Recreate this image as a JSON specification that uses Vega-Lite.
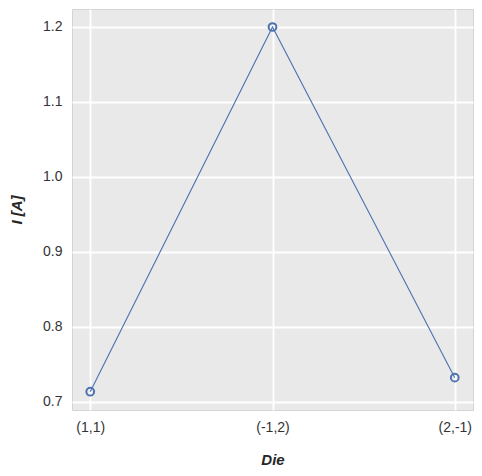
{
  "$schema": "https://vega.github.io/schema/vega-lite/v6.json",
  "width": 401,
  "height": 401,
  "autosize": {"type": "none"},
  "padding": {"left": 72, "top": 9, "right": 9, "bottom": 66},
  "background": "white",
  "config": {
    "view": {"fill": "#e9e9e9", "stroke": "#d4d4d4", "strokeWidth": 1},
    "font": "Liberation Sans",
    "axis": {
      "domain": false,
      "ticks": false,
      "grid": true,
      "gridColor": "white",
      "gridWidth": 1.8,
      "labelColor": "#333333",
      "labelFontSize": 14,
      "titleColor": "#262626",
      "titleFontSize": 15,
      "titleFontWeight": "bold",
      "titleFontStyle": "italic"
    }
  },
  "data": {
    "values": [
      {"die": "(1,1)", "current": 0.7137},
      {"die": "(-1,2)", "current": 1.2},
      {"die": "(2,-1)", "current": 0.7324}
    ]
  },
  "encoding": {
    "x": {
      "field": "die",
      "type": "ordinal",
      "sort": null,
      "scale": {"type": "point", "padding": 0.1},
      "axis": {"title": "Die", "labelAngle": 0, "labelPadding": 10, "titlePadding": 18}
    },
    "y": {
      "field": "current",
      "type": "quantitative",
      "scale": {"domain": [0.6893, 1.224], "nice": false, "zero": false},
      "axis": {"title": "I [A]", "values": [0.7, 0.8, 0.9, 1.0, 1.1, 1.2], "format": ".1f", "labelPadding": 10, "titlePadding": 18}
    }
  },
  "layer": [
    {"mark": {"type": "line", "color": "#4c72b0", "strokeWidth": 1.1}},
    {"mark": {"type": "point", "shape": "circle", "filled": false, "color": "#4c72b0", "strokeWidth": 2, "size": 60, "opacity": 1}}
  ]
}
